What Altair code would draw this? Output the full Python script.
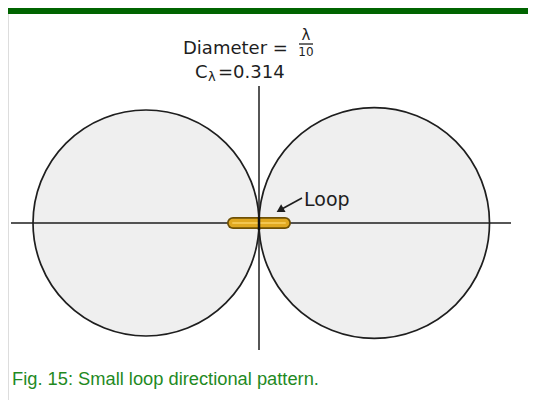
import altair as alt
import pandas as pd
import math

# ---- data ----
lobe_direction_deg = [180, 0]        # lobe axes (along the loop plane)
lobe_relative_gain = [1.00, 1.02]    # relative lobe size (left, right)
diameter_label = "Diameter ="
diameter_frac = ["λ", "10"]
c_lambda_value = "=0.314"
loop_label = "Loop"
caption = "Fig. 15: Small loop directional pattern."

# ---- layout ----
W, H = 520, 392
PX = 226.0                # pixels per unit of gain (one lobe diameter)
OX, OY = 259.0, 223.0     # page position of the pattern origin


def nx(p):
    return (p - OX) / PX


def ny(p):
    return (OY - p) / PX


xs = alt.Scale(domain=[nx(8), nx(8 + W)], nice=False, zero=False)
ys = alt.Scale(domain=[ny(8 + H), ny(8)], nice=False, zero=False)
noax = None

lobes = pd.DataFrame({
    "dir": lobe_direction_deg,
    "g": lobe_relative_gain,
})
lobes["cx"] = [g / 2 * math.cos(math.radians(a)) for a, g in zip(lobes.dir, lobes.g)]
lobes["cy"] = [g / 2 * math.sin(math.radians(a)) for a, g in zip(lobes.dir, lobes.g)]

size_scale = alt.Scale(type="pow", exponent=2, domain=[0, 1], range=[0, PX * PX])

base = alt.Chart(lobes)
enc = dict(
    x=alt.X("cx:Q", scale=xs, axis=noax),
    y=alt.Y("cy:Q", scale=ys, axis=noax),
    size=alt.Size("g:Q", scale=size_scale, legend=None),
)
fills = base.mark_point(shape="circle", filled=True, fill="#efefef",
                        opacity=1, fillOpacity=1, strokeWidth=0).encode(**enc)
strokes = base.mark_point(shape="circle", filled=False, fill="transparent",
                          stroke="#1e1e1e", strokeWidth=1.7, opacity=1).encode(**enc)

# axis lines through the loop
axes_df = pd.DataFrame({
    "x": [nx(11), 0.0],
    "x2": [nx(511), 0.0],
    "y": [0.0, ny(86)],
    "y2": [0.0, ny(350)],
})
axes_lines = alt.Chart(axes_df).mark_rule(color="#1e1e1e", strokeWidth=1.5).encode(
    x=alt.X("x:Q", scale=xs, axis=noax), x2="x2:Q",
    y=alt.Y("y:Q", scale=ys, axis=noax), y2="y2:Q",
)

# the loop (seen edge-on)
rod_df = pd.DataFrame({"x": [nx(233)], "x2": [nx(285)], "y": [0.0], "y2": [0.0]})
rod_enc = dict(x=alt.X("x:Q", scale=xs, axis=noax), x2="x2:Q",
               y=alt.Y("y:Q", scale=ys, axis=noax), y2="y2:Q")
rod_out = alt.Chart(rod_df).mark_rule(color="#6e5006", strokeWidth=12, strokeCap="round").encode(**rod_enc)
rod_in = alt.Chart(rod_df).mark_rule(color="#e0a820", strokeWidth=8.5, strokeCap="round").encode(**rod_enc)
rod_hi = alt.Chart(rod_df).mark_rule(color="#f3c650", strokeWidth=2, strokeCap="round").encode(**rod_enc)
rod_mid = alt.Chart(pd.DataFrame({"x": [0.0], "y": [ny(217)], "y2": [ny(230)]})).mark_rule(
    color="#111", strokeWidth=2.5).encode(
    x=alt.X("x:Q", scale=xs, axis=noax), y=alt.Y("y:Q", scale=ys, axis=noax), y2="y2:Q")

# arrow from the "Loop" label
arrow_df = pd.DataFrame({"x": [nx(302)], "y": [ny(198)], "x2": [nx(280)], "y2": [ny(210)]})
arrow_line = alt.Chart(arrow_df).mark_rule(color="#1e1e1e", strokeWidth=1.6).encode(
    x=alt.X("x:Q", scale=xs, axis=noax), x2="x2:Q",
    y=alt.Y("y:Q", scale=ys, axis=noax), y2="y2:Q")
head_df = pd.DataFrame({"x": [nx(280)], "y": [ny(210)]})
arrow_head = alt.Chart(head_df).mark_point(shape="triangle-up", filled=True, color="#1e1e1e",
                                           size=80, angle=240, opacity=1).encode(
    x=alt.X("x:Q", scale=xs, axis=noax), y=alt.Y("y:Q", scale=ys, axis=noax))

FONT = "DejaVu Sans"
TXT = "#1e1e1e"


def label(text, px, py, size=17, align="left", color=TXT, font=FONT):
    return alt.Chart(pd.DataFrame({"t": [text]})).mark_text(
        align=align, baseline="alphabetic", fontSize=size, font=font, color=color
    ).encode(text="t:N", x=alt.value(px - 8), y=alt.value(py - 8))


texts = [
    label(diameter_label, 183, 54, 18),
    label(diameter_frac[0], 306, 40, 15, align="center"),
    label(diameter_frac[1], 306, 56, 12, align="center"),
    label("C", 195, 78, 18),
    label("λ", 208, 81, 13),
    label(c_lambda_value, 218, 78, 18),
    label(loop_label, 304, 206, 19),
    label(caption, 12, 385, 18.3, color="#1f8a1f", font="Liberation Sans"),
]
frac_bar = alt.Chart(pd.DataFrame({"x": [0]})).mark_rule(color=TXT, strokeWidth=1.3).encode(
    x=alt.value(299 - 8), x2=alt.value(313 - 8), y=alt.value(44 - 8))

top_bar = alt.Chart(pd.DataFrame({"x": [0]})).mark_rect(color="#006400").encode(
    x=alt.value(0), x2=alt.value(W), y=alt.value(0), y2=alt.value(6))

chart = alt.layer(
    fills, strokes, axes_lines, rod_out, rod_in, rod_hi, rod_mid,
    arrow_line, arrow_head, frac_bar, top_bar, *texts
).properties(
    width=W, height=H, padding=0,
    autosize=alt.AutoSizeParams(type="none"),
).configure_view(stroke=None).configure(background="white")

chart.save("out.html", embed_options={"renderer": "svg", "actions": False})
